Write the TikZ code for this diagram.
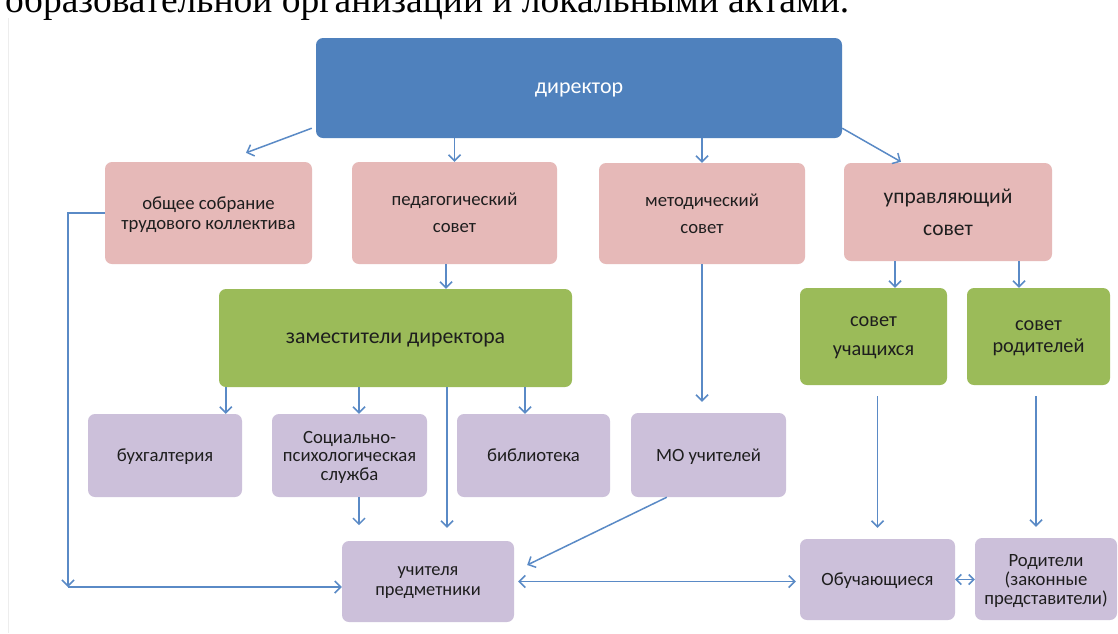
\documentclass[tikz,border=0pt]{standalone}
\usepackage{fontspec}
\setmainfont{Carlito}
\newfontfamily\docserif{Liberation Serif}
\usetikzlibrary{arrows.meta,calc}
\definecolor{dirblue}{HTML}{4F81BD}
\definecolor{pinkc}{HTML}{E6B9B8}
\definecolor{greenc}{HTML}{9BBB59}
\definecolor{lilc}{HTML}{CCC0DA}
\definecolor{arrc}{HTML}{5A8AC6}
\definecolor{textc}{HTML}{1E1E1E}
\definecolor{framec}{HTML}{EDEDED}
\tikzset{
  box/.style={rectangle, rounded corners=7pt, align=center, inner sep=0pt, text=textc, text depth=0pt},
  pinkbox/.style={box, fill=pinkc},
  greenbox/.style={box, fill=greenc},
  lilbox/.style={box, fill=lilc},
  arr/.style={draw=arrc, line width=1.5pt, -{Straight Barb[length=6pt,width=12pt]}},
  darr/.style={draw=arrc, line width=1.5pt, {Straight Barb[length=6pt,width=12pt]}-{Straight Barb[length=6pt,width=12pt]}},
  sarr/.style={draw=arrc, line width=1.5pt, {Straight Barb[length=5pt,width=10pt]}-{Straight Barb[length=5pt,width=10pt]}},
  fs/.style={font=\fontsize{18.7}{21}\selectfont},
}
\begin{document}
\begin{tikzpicture}[x=1pt,y=-1pt]
\useasboundingbox (0,0) rectangle (1118,633);
\clip (0,0) rectangle (1118,633);
\fill[white] (0,0) rectangle (1118,633);
% clipped line of the surrounding document
\node[anchor=base west, inner sep=0pt, font=\docserif\fontsize{37.5}{40}\selectfont] (doc) at (5,12) {образовательной организации и локальными актами.};
\draw[framec, line width=1pt] (8,18) -- (8,633);

% boxes
\node[box, fill=dirblue, text=white, minimum width=526pt, minimum height=100pt, font=\fontsize{22}{25}\selectfont] (dir) at (579,88) {директор};

\node[pinkbox, minimum width=207pt, minimum height=102pt, font=\fontsize{18.7}{20}\selectfont] (obs) at (208.5,213) {общее собрание\\трудового коллектива};
\node[pinkbox, minimum width=205pt, minimum height=102pt, font=\fontsize{18.7}{27}\selectfont] (ped) at (454.5,213) {педагогический\\совет};
\node[pinkbox, minimum width=206pt, minimum height=101pt, font=\fontsize{18.7}{27}\selectfont] (met) at (702,213.5) {методический\\совет};
\node[pinkbox, minimum width=208pt, minimum height=98pt, font=\fontsize{21.5}{32}\selectfont] (upr) at (948,212) {управляющий\\совет};

\node[greenbox, minimum width=353pt, minimum height=98pt, font=\fontsize{21.8}{25}\selectfont] (zam) at (395.5,338) {заместители директора};
\node[greenbox, minimum width=147pt, minimum height=97pt, font=\fontsize{20.3}{29}\selectfont] (su) at (873.5,336.5) {совет\\учащихся};
\node[greenbox, minimum width=143pt, minimum height=97pt, font=\fontsize{20.3}{22}\selectfont] (sr) at (1038.5,336.5) {совет\\родителей};

\node[lilbox, minimum width=154pt, minimum height=83pt, fs] (buh) at (165,455.5) {бухгалтерия};
\node[lilbox, minimum width=155pt, minimum height=83pt, font=\fontsize{18.7}{18.5}\selectfont] (soc) at (349.5,455.5) {Социально-\\психологическая\\служба};
\node[lilbox, minimum width=153pt, minimum height=83pt, fs] (bib) at (533.5,455.5) {библиотека};
\node[lilbox, minimum width=155pt, minimum height=84pt, fs] (mo) at (708.5,455) {МО учителей};

\node[lilbox, minimum width=172pt, minimum height=81pt, font=\fontsize{18.4}{20}\selectfont] (uch) at (428,581.5) {учителя\\предметники};
\node[lilbox, minimum width=155pt, minimum height=81pt, fs] (obu) at (877.5,579.5) {Обучающиеся};
\node[lilbox, minimum width=142pt, minimum height=82pt, font=\fontsize{18.7}{19}\selectfont] (rod) at (1046,579) {Родители\\(законные\\представители)};

% connectors
\draw[arr] ($(dir.south west)+(-4,-10)$) -- ($(obs.north)+(37.5,-9)$);
\draw[arr] (ped.north |- dir.south) -- (ped.north);
\draw[arr] (met.north |- dir.south) -- (met.north);
\draw[arr] ($(dir.south east)+(0,-10)$) -- ($(upr.north)+(-47,-1)$);

\coordinate (lc) at (68,587);
\draw[arr] (obs.west) -| (lc);
\draw[arr] (lc) -- (lc -| uch.west);

\draw[arr] ($(ped.south)+(-8.5,0)$) -- ($(ped.south |- zam.north)+(-8.5,0)$);
\draw[arr] ($(zam.south west)+(7,0)$) -- ($(zam.south west |- buh.north)+(7,0)$);
\draw[arr] ($(soc.north |- zam.south)+(9.5,0)$) -- ($(soc.north)+(9.5,0)$);
\draw[arr] ($(bib.north |- zam.south)+(-8.5,0)$) -- ($(bib.north)+(-8.5,0)$);
\draw[arr] ($(uch.north |- zam.south)+(19,0)$) -- ($(uch.north)+(19,-13)$);
\draw[arr] ($(soc.south)+(9.5,0)$) -- ($(soc.south)+(9.5,28)$);

\draw[arr] (met.south) -- ($(met.south |- mo.north)+(0,-11)$);
\draw[arr] ($(mo.south west)+(36,0)$) -- ($(uch.east)+(13,-16.5)$);
\draw[darr] ($(uch.east)+(4,0)$) -- ($(obu.west |- uch.east)+(-4,0)$);

\draw[arr] ($(su.north |- upr.south)+(21.5,0)$) -- ($(su.north)+(21.5,0)$);
\draw[arr] ($(sr.north |- upr.south)+(-19.5,0)$) -- ($(sr.north)+(-19.5,0)$);
\draw[arr] ($(obu.north |- su.south)+(0,11)$) -- ($(obu.north)+(0,-11)$);
\draw[arr] ($(rod.north |- sr.south)+(-10,11)$) -- ($(rod.north)+(-10,-11)$);
\draw[sarr] (obu.east) -- (rod.west |- obu.east);
\end{tikzpicture}
\end{document}
